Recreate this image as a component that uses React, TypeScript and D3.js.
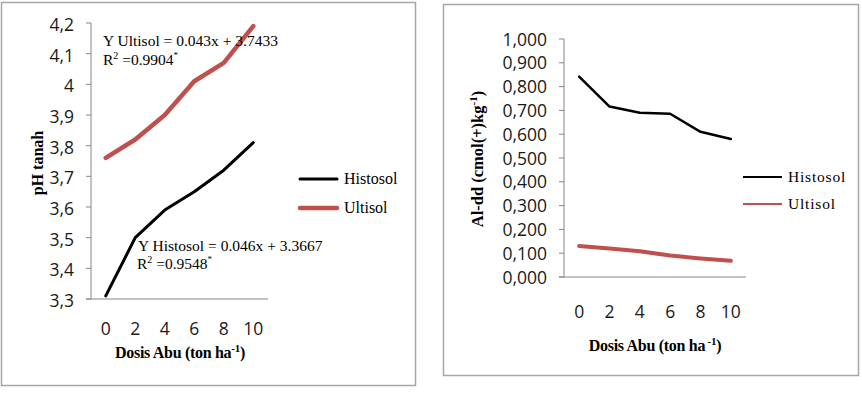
import React from "react";
import * as d3 from "d3";

const doses = ["0", "2", "4", "6", "8", "10"];
const phHistosol = [3.31, 3.5, 3.59, 3.65, 3.72, 3.81];
const phUltisol = [3.76, 3.82, 3.9, 4.01, 4.07, 4.19];
const alHistosol = [0.842, 0.716, 0.69, 0.686, 0.61, 0.58];
const alUltisol = [0.13, 0.12, 0.108, 0.09, 0.078, 0.068];
const phTicks = [3.3, 3.4, 3.5, 3.6, 3.7, 3.8, 3.9, 4.0, 4.1, 4.2];
const alTicks = [0, 0.1, 0.2, 0.3, 0.4, 0.5, 0.6, 0.7, 0.8, 0.9, 1.0];
const seriesNames = ["Histosol", "Ultisol"];

const RED = "#C0504D";
const AXIS = "#868686";
const BORDER = "#A6A6A6";
const SANS = "'Open Sans', 'Noto Sans', sans-serif";
const SERIF = "'Liberation Serif', 'DejaVu Serif', serif";

const fmtPh = (v: number) => {
  const s = d3.format(".1f")(v).replace(".", ",");
  return s === "4,0" ? "4" : s;
};
const fmtAl = (v: number) => d3.format(".3f")(v).replace(".", ",");

export default function App() {
  // Left chart
  const lx = d3.scalePoint<string>().domain(doses).range([91, 268]).padding(0.5);
  const ly = d3.scaleLinear().domain([3.3, 4.2]).range([299, 23]);
  const lLine = (vals: number[]) =>
    d3.line<number>().x((_, i) => lx(doses[i]) as number).y((d) => ly(d))(vals) || "";

  // Right chart
  const rx = d3.scalePoint<string>().domain(doses).range([564, 746]).padding(0.5);
  const ry = d3.scaleLinear().domain([0, 1]).range([277, 39]);
  const rLine = (vals: number[]) =>
    d3.line<number>().x((_, i) => rx(doses[i]) as number).y((d) => ry(d))(vals) || "";

  return (
    <svg
      width={862}
      height={402}
      style={{ position: "absolute", left: 0, top: 0, background: "#fff" }}
    >
      {/* Left panel */}
      <rect x={1.5} y={2.5} width={414} height={383} fill="#fff" stroke={BORDER} strokeWidth={1.5} />
      <line x1={91} x2={91} y1={23} y2={299} stroke={AXIS} strokeWidth={1} />
      <line x1={86} x2={268} y1={299} y2={299} stroke={AXIS} strokeWidth={1} />
      {phTicks.map((t) => (
        <g key={t}>
          <line x1={86} x2={91} y1={ly(t)} y2={ly(t)} stroke={AXIS} />
          <text
            x={74}
            y={ly(t) + 8}
            textAnchor="end"
            fontFamily={SANS}
            fontSize={17.5}
            fill="#1a1a1a"
          >
            {fmtPh(t)}
          </text>
        </g>
      ))}
      {doses.map((d) => (
        <text key={d} x={lx(d)} y={335} textAnchor="middle" fontFamily={SANS} fontSize={17.5} fill="#1a1a1a">
          {d}
        </text>
      ))}
      <path d={lLine(phUltisol)} fill="none" stroke={RED} strokeWidth={4.5} strokeLinejoin="round" strokeLinecap="round" />
      <path d={lLine(phHistosol)} fill="none" stroke="#000" strokeWidth={3} strokeLinejoin="round" strokeLinecap="round" />
      <text
        transform="translate(43,163) rotate(-90)"
        textAnchor="middle"
        fontFamily={SERIF}
        fontWeight="bold"
        fontSize={16}
      >
        pH tanah
      </text>
      <text x={180} y={358} textAnchor="middle" fontFamily={SERIF} fontWeight="bold" fontSize={16} letterSpacing={-0.3}>
        Dosis Abu (ton ha
        <tspan dy={-6} fontSize={11}>-1</tspan>
        <tspan dy={6}>)</tspan>
      </text>
      <text x={103} y={46} fontFamily={SERIF} fontSize={15.5}>
        Y Ultisol = 0.043x + 3.7433
      </text>
      <text x={103} y={65} fontFamily={SERIF} fontSize={15.5}>
        R<tspan dy={-6} fontSize={10}>2</tspan>
        <tspan dy={6}> =0.9904</tspan>
        <tspan dy={-7} fontSize={9}>*</tspan>
      </text>
      <text x={138} y={251} fontFamily={SERIF} fontSize={15.5}>
        Y Histosol = 0.046x + 3.3667
      </text>
      <text x={137} y={269} fontFamily={SERIF} fontSize={15.5}>
        R<tspan dy={-6} fontSize={10}>2</tspan>
        <tspan dy={6}> =0.9548</tspan>
        <tspan dy={-7} fontSize={9}>*</tspan>
      </text>
      {seriesNames.map((n, i) => (
        <g key={n}>
          <line
            x1={300}
            x2={337}
            y1={179 + i * 29}
            y2={179 + i * 29}
            stroke={i === 0 ? "#000" : RED}
            strokeWidth={i === 0 ? 3 : 4.5}
            strokeLinecap="round"
          />
          <text x={344} y={184 + i * 29} fontFamily={SERIF} fontSize={16}>
            {n}
          </text>
        </g>
      ))}

      {/* Right panel */}
      <rect x={443.5} y={4.5} width={415} height={371} fill="#fff" stroke={BORDER} strokeWidth={1.5} />
      <line x1={564} x2={564} y1={39} y2={277} stroke={AXIS} strokeWidth={1} />
      <line x1={559} x2={746} y1={277} y2={277} stroke={AXIS} strokeWidth={1} />
      {alTicks.map((t) => (
        <g key={t}>
          <line x1={559} x2={564} y1={ry(t)} y2={ry(t)} stroke={AXIS} />
          <text
            x={547}
            y={ry(t) + 6.5}
            textAnchor="end"
            fontFamily={SANS}
            fontSize={17.5}
            fill="#1a1a1a"
          >
            {fmtAl(t)}
          </text>
        </g>
      ))}
      {doses.map((d) => (
        <text key={d} x={rx(d)} y={318} textAnchor="middle" fontFamily={SANS} fontSize={17.5} fill="#1a1a1a">
          {d}
        </text>
      ))}
      <path d={rLine(alUltisol)} fill="none" stroke={RED} strokeWidth={4} strokeLinejoin="round" strokeLinecap="round" />
      <path d={rLine(alHistosol)} fill="none" stroke="#000" strokeWidth={2.5} strokeLinejoin="round" strokeLinecap="round" />
      <text
        transform="translate(483,159) rotate(-90)"
        textAnchor="middle"
        fontFamily={SERIF}
        fontWeight="bold"
        fontSize={16.5}
      >
        Al-dd (cmol(+)kg
        <tspan dy={-6} fontSize={11}>-1</tspan>
        <tspan dy={6}>)</tspan>
      </text>
      <text x={655} y={351} textAnchor="middle" fontFamily={SERIF} fontWeight="bold" fontSize={16} letterSpacing={-0.3}>
        Dosis Abu (ton ha
        <tspan dy={-6} fontSize={11}> -1</tspan>
        <tspan dy={6}>)</tspan>
      </text>
      {seriesNames.map((n, i) => (
        <g key={n}>
          <line
            x1={743}
            x2={782}
            y1={177 + i * 27}
            y2={177 + i * 27}
            stroke={i === 0 ? "#000" : RED}
            strokeWidth={2}
          />
          <text x={788} y={182 + i * 27} fontFamily={SERIF} fontSize={15.5} letterSpacing={0.8}>
            {n}
          </text>
        </g>
      ))}
    </svg>
  );
}
